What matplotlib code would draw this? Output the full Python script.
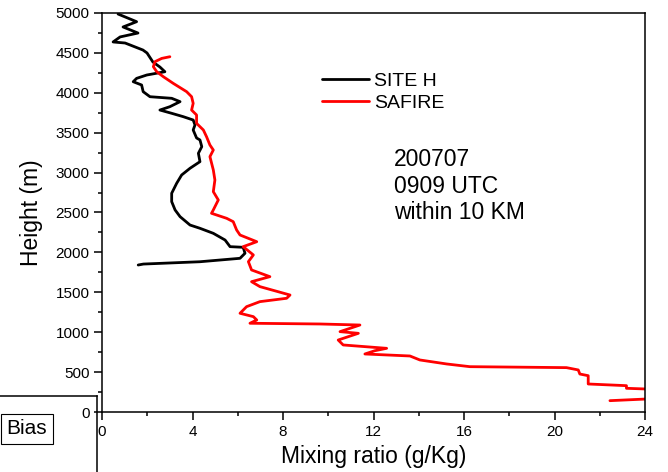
import matplotlib
matplotlib.use("Agg")
import matplotlib.pyplot as plt
from matplotlib.ticker import MultipleLocator
from matplotlib.lines import Line2D

plt.rcParams['font.family'] = ['Liberation Sans', 'DejaVu Sans']

# SITE H profile (mixing ratio g/kg, height m)
site_x = [0.71, 1.53, 0.93, 1.59, 0.80, 0.49, 1.02, 1.81, 1.99, 2.25, 2.56, 2.78,
          1.98, 1.53, 1.38, 1.75, 1.82, 2.12, 3.08, 3.45, 3.00, 2.56, 3.08, 3.59,
          4.03, 4.11, 4.03, 4.18, 4.33, 4.41, 4.26, 4.33, 3.89, 3.52, 3.30, 3.08,
          3.08, 3.23, 3.45, 3.89, 4.33, 4.92, 5.44, 5.66, 6.24, 6.32, 6.10, 4.33,
          1.83, 1.60]
site_h = [4987, 4891, 4825, 4749, 4700, 4637, 4624, 4536, 4499, 4386, 4323, 4264,
          4223, 4181, 4139, 4098, 4014, 3951, 3931, 3889, 3826, 3784, 3743, 3701,
          3659, 3597, 3534, 3434, 3409, 3325, 3242, 3137, 3054, 2970, 2866, 2741,
          2636, 2532, 2448, 2343, 2302, 2239, 2155, 2072, 2064, 1989, 1926, 1883,
          1854, 1842]

# SAFIRE profile
safire_x = [3.00, 2.64, 2.34, 2.27, 2.42, 2.71, 3.15, 3.74, 3.96, 4.03, 3.96, 4.18,
            4.18, 4.48, 4.62, 4.77, 4.92, 4.77, 4.92, 4.99, 4.92, 5.14, 4.92, 4.84,
            5.51, 5.80, 5.95, 6.10, 6.84, 6.24, 6.69, 6.47, 6.61, 7.42, 6.61, 6.98,
            8.31, 8.16, 6.98, 6.39, 6.10, 6.69, 6.84, 6.54, 9.63, 11.40, 10.52, 11.33,
            10.44, 10.66, 12.58, 12.06, 11.62, 13.61, 14.05, 15.23, 16.26, 20.53, 21.05,
            21.12, 21.49, 21.49, 23.18, 23.18, 24.07, 25.0, 24.07, 22.45]
safire_h = [4452, 4431, 4390, 4327, 4264, 4202, 4118, 4014, 3951, 3868, 3784, 3722,
            3617, 3534, 3450, 3346, 3283, 3200, 3033, 2907, 2761, 2657, 2532, 2490,
            2427, 2385, 2281, 2218, 2134, 2072, 1968, 1884, 1780, 1696, 1633, 1571,
            1466, 1425, 1383, 1320, 1237, 1195, 1153, 1112, 1103, 1090, 1007, 986,
            902, 840, 798, 768, 727, 702, 652, 602, 568, 556, 527,
            476, 455, 351, 330, 297, 288, 220, 163, 142]

xticks = [0, 4, 8, 12, 16, 20, 24]
yticks = list(range(0, 5001, 500))

W, H = 668, 472
fig = plt.figure(figsize=(W / 100, H / 100), dpi=100)
ax = fig.add_axes([102 / W, 1 - 412 / H, (645 - 102) / W, (412 - 13) / H])

ax.plot(site_x, site_h, color='black', lw=2.0, label='SITE H',
        solid_joinstyle='round', solid_capstyle='round')
ax.plot(safire_x, safire_h, color='#ff0000', lw=2.0, label='SAFIRE',
        solid_joinstyle='round', solid_capstyle='round')

ax.set_xlim(0, 24)
ax.set_ylim(0, 5000)
ax.set_xticks(xticks)
ax.set_yticks(yticks)
ax.xaxis.set_minor_locator(MultipleLocator(2))
ax.yaxis.set_minor_locator(MultipleLocator(250))
ax.tick_params(which='major', direction='out', length=6, width=1.1, labelsize=11, pad=3)
ax.tick_params(which='minor', direction='out', length=3, width=1.1)
for s in ax.spines.values():
    s.set_linewidth(1.1)

ax.set_xlabel('Mixing ratio (g/Kg)', fontsize=16.5, labelpad=5)
ax.set_ylabel('Height (m)', fontsize=16.5, labelpad=9)

leg = ax.legend(loc='upper left', bbox_to_anchor=(322 / W, 1 - 72 / H),
                bbox_transform=fig.transFigure, frameon=False, fontsize=14,
                handlelength=2.4, handletextpad=0.3, labelspacing=0.25,
                borderpad=0, borderaxespad=0)

fig.text(394 / W, 1 - 148 / H, '200707\n0909 UTC\nwithin 10 KM', fontsize=16.5,
         va='top', ha='left', linespacing=1.2)

# remnants of the neighbouring panel
fig.add_artist(Line2D([0, 97 / W], [1 - 395.5 / H, 1 - 395.5 / H], color='black', lw=1.1,
                      transform=fig.transFigure))
fig.add_artist(Line2D([97 / W, 97 / W], [1 - 395.5 / H, 0], color='black', lw=1.1,
                      transform=fig.transFigure))
fig.text(27 / W, 1 - 429 / H, 'Bias', fontsize=15, ha='center', va='center',
         bbox=dict(boxstyle='square,pad=0.28', fc='white', ec='black', lw=0.8))

fig.savefig('out.png', dpi=100)
